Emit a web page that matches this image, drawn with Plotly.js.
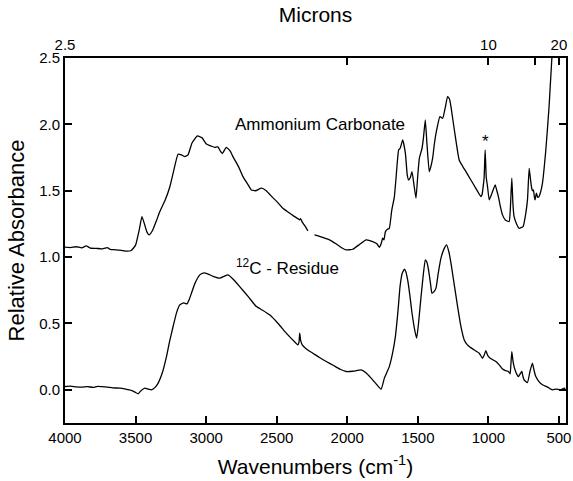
<!DOCTYPE html>
<html>
<head>
<meta charset="utf-8">
<script src="https://cdn.plot.ly/plotly-3.0.1.min.js"></script>
<style>html,body{margin:0;padding:0;background:#fff;}#chart{width:573px;height:481px;}</style>
</head>
<body>
<div id="chart"></div>
<script>
// Ammonium Carbonate spectrum (wavenumber cm^-1, relative absorbance)
const carbWn = [4000,3960,3920,3880,3850,3820,3780,3740,3700,3680,3640,3600,3560,3530,3500,3475,3455,3440,3420,3404,3380,3350,3328,3290,3257,3230,3199,3175,3151,3128,3100,3062,3030,2998,2960,2939,2916,2900,2885,2857,2830,2810,2770,2739,2700,2680,2650,2609,2574,2530,2500,2456,2420,2373,2350,2338,2330,2320,2300,2279,2260,2232,2180,2126,2080,2040,2008,1961,1920,1866,1820,1790,1772,1760,1749,1740,1730,1715,1702,1685,1666,1654,1636,1625,1607,1588,1575,1565,1553,1541,1528,1513,1500,1489,1470,1460,1447,1435,1419,1408,1395,1383,1371,1343,1324,1305,1289,1275,1265,1240,1207,1180,1159,1124,1090,1053,1045,1037,1030,1023,1015,1006,994,975,952,940,929,915,900,880,853,845,834,826,818,800,782,754,735,723,711,703,695,688,681,675,669,660,650,641,630,617,593,570,551,540];
const carbAbs = [1.075,1.072,1.078,1.070,1.085,1.068,1.066,1.062,1.072,1.058,1.055,1.050,1.045,1.050,1.09,1.20,1.305,1.26,1.19,1.167,1.20,1.28,1.343,1.43,1.53,1.65,1.775,1.77,1.757,1.77,1.86,1.913,1.90,1.852,1.835,1.827,1.83,1.80,1.78,1.827,1.80,1.757,1.68,1.606,1.54,1.506,1.50,1.519,1.50,1.45,1.42,1.368,1.34,1.305,1.29,1.28,1.29,1.265,1.235,1.197,null,1.167,1.15,1.13,1.10,1.07,1.054,1.059,1.09,1.13,1.117,1.10,1.074,1.10,1.142,1.13,1.19,1.21,1.217,1.35,1.456,1.60,1.807,1.82,1.883,1.782,1.62,1.581,1.60,1.644,1.55,1.444,1.62,1.745,1.82,1.90,2.033,1.85,1.644,1.68,1.745,1.85,1.933,2.058,2.046,2.13,2.209,2.19,2.133,1.95,1.732,1.68,1.644,1.581,1.52,1.456,1.47,1.531,1.60,1.807,1.60,1.531,1.431,1.48,1.544,1.50,1.456,1.38,1.318,1.28,1.267,1.35,1.594,1.40,1.305,1.25,1.217,1.23,1.33,1.431,1.669,1.60,1.531,1.50,1.506,1.46,1.431,1.481,1.45,1.456,1.49,1.556,1.807,2.133,2.485,2.65];

// 12C - Residue spectrum
const resWn = [4000,3960,3920,3880,3840,3800,3770,3740,3700,3660,3611,3570,3530,3500,3482,3460,3434,3410,3387,3360,3340,3310,3281,3260,3234,3210,3187,3160,3135,3120,3104,3080,3045,3020,2998,2950,2904,2870,2845,2810,2762,2700,2644,2600,2550,2490,2432,2390,2350,2342,2337,2330,2319,2280,2244,2200,2149,2100,2050,2008,1960,1902,1870,1831,1800,1760,1737,1702,1680,1659,1640,1626,1610,1595,1585,1572,1555,1541,1520,1508,1495,1477,1460,1447,1435,1424,1410,1400,1385,1371,1355,1336,1315,1296,1280,1265,1240,1218,1195,1171,1150,1136,1100,1065,1042,1030,1018,1005,987,947,925,900,880,858,846,840,834,826,818,800,787,775,763,755,747,723,705,688,675,664,640,617,580,547,520,488,470,455];
const resAbs = [0.025,0.028,0.022,0.020,0.024,0.018,0.026,0.024,0.020,0.014,0.013,0.005,-0.005,-0.02,-0.03,-0.005,0.013,0.005,0.0,0.02,0.05,0.13,0.25,0.36,0.477,0.58,0.64,0.655,0.648,0.68,0.728,0.80,0.866,0.88,0.878,0.855,0.841,0.856,0.866,0.835,0.778,0.70,0.627,0.60,0.565,0.50,0.427,0.38,0.339,0.36,0.427,0.37,0.339,0.30,0.276,0.245,0.213,0.185,0.155,0.138,0.14,0.15,0.13,0.088,0.05,0.005,0.088,0.175,0.27,0.401,0.60,0.778,0.88,0.909,0.89,0.828,0.70,0.577,0.44,0.389,0.50,0.703,0.88,0.979,0.96,0.904,0.80,0.728,0.74,0.766,0.88,0.992,1.06,1.092,1.04,0.954,0.78,0.627,0.48,0.376,0.34,0.326,0.30,0.276,0.238,0.26,0.296,0.26,0.238,0.213,0.19,0.156,0.145,0.138,0.12,0.20,0.288,0.22,0.175,0.12,0.10,0.12,0.138,0.10,0.075,0.055,0.14,0.201,0.14,0.10,0.06,0.038,0.02,0.0,0.005,0.0,0.01,0.013];

// Top axis (microns) tick positions in wavenumbers and labels
const micronTickWn = [4000, 2000, 1000, 666.67, 500];
const micronTickText = ['2.5', ' ', '10', ' ', '20'];

const FONT = 'Liberation Sans, Arial, Helvetica, sans-serif';
const lineStyle = {color: 'black', width: 1.3, shape: 'spline', smoothing: 0.4};

const traces = [
  {x: carbWn, y: carbAbs, xaxis: 'x2', yaxis: 'y', type: 'scatter', mode: 'lines', line: lineStyle, connectgaps: false, showlegend: false, hoverinfo: 'skip'},
  {x: resWn, y: resAbs, xaxis: 'x', yaxis: 'y', type: 'scatter', mode: 'lines', line: lineStyle, showlegend: false, hoverinfo: 'skip'}
];

const layout = {
  width: 573, height: 481,
  margin: {l: 65, r: 7, t: 58, b: 58},
  paper_bgcolor: 'white', plot_bgcolor: 'white',
  font: {family: FONT, color: 'black'},
  showlegend: false,
  xaxis: {
    range: [4000, 450], autorange: false,
    tickmode: 'linear', tick0: 0, dtick: 500,
    ticks: 'inside', ticklen: 7, tickwidth: 1.5, tickcolor: 'black',
    showline: true, linewidth: 2, linecolor: 'black', mirror: true,
    showgrid: false, zeroline: false,
    tickfont: {size: 15, family: FONT, color: 'black'},
    title: {text: 'Wavenumbers (cm<sup>-1</sup>)', font: {size: 21, family: FONT, color: 'black'}, standoff: 14}
  },
  xaxis2: {
    overlaying: 'x', side: 'top', anchor: 'y',
    range: [4000, 450], autorange: false,
    tickmode: 'array', tickvals: micronTickWn, ticktext: micronTickText,
    ticks: 'inside', ticklen: 7, tickwidth: 1.5, tickcolor: 'black',
    showline: true, linewidth: 2, linecolor: 'black',
    showgrid: false, zeroline: false,
    tickfont: {size: 15, family: FONT, color: 'black'},
    title: {text: 'Microns', font: {size: 21, family: FONT, color: 'black'}, standoff: 8}
  },
  yaxis: {
    range: [-0.25, 2.5], autorange: false,
    tickmode: 'linear', tick0: 0, dtick: 0.5, tickformat: '.1f',
    ticks: 'inside', ticklen: 7, tickwidth: 1.5, tickcolor: 'black',
    showline: true, linewidth: 2, linecolor: 'black', mirror: 'ticks',
    showgrid: false, zeroline: false,
    tickfont: {size: 15, family: FONT, color: 'black'},
    title: {text: 'Relative Absorbance', font: {size: 22, family: FONT, color: 'black'}, standoff: 8}
  },
  annotations: [
    {x: 2190, y: 2.0, xref: 'x', yref: 'y', text: 'Ammonium Carbonate', showarrow: false, font: {size: 17, family: FONT, color: 'black'}},
    {x: 2426, y: 0.925, xref: 'x', yref: 'y', text: '<sup>12</sup>C - Residue', showarrow: false, font: {size: 17, family: FONT, color: 'black'}},
    {x: 1018, y: 1.87, xref: 'x', yref: 'y', text: '*', showarrow: false, font: {size: 17, family: FONT, color: 'black'}}
  ]
};

Plotly.newPlot('chart', traces, layout, {displayModeBar: false});
</script>
</body>
</html>
